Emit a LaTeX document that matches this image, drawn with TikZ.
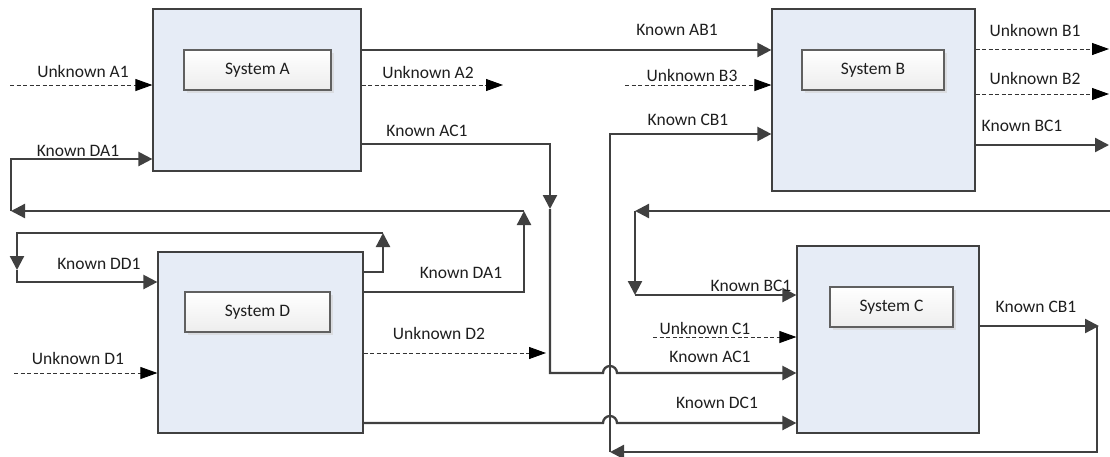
\documentclass[tikz,border=0pt]{standalone}
\usepackage{fontspec}
\setmainfont{Carlito}
\usetikzlibrary{arrows.meta,shadows}
\definecolor{linec}{HTML}{404040}
\definecolor{boxfill}{HTML}{E6ECF6}
\definecolor{txtc}{HTML}{1E1E1E}
\begin{document}
\begin{tikzpicture}[x=1pt,y=-1pt,
  sysbox/.style={draw=linec,line width=1.2pt,fill=boxfill,inner sep=0pt},
  lblbox/.style={draw=gray!75!black,line width=1.2pt,top color=white,bottom color=gray!14,
     inner sep=0pt,minimum height=40pt,text=txtc,
     drop shadow={shadow xshift=3pt,shadow yshift=-3pt,fill=gray!35,opacity=.6},
     font=\fontsize{17.5}{20}\selectfont},
  conn/.style={draw=linec,line width=2.3pt,-{Triangle[length=14pt,width=14pt]}},
  dconn/.style={draw=black!80,line width=0.9pt,dash pattern=on 4pt off 2.5pt,-{Triangle[length=17pt,width=12pt,color=black]}},
  lbl/.style={text=txtc,font=\fontsize{17.5}{20}\selectfont,inner sep=0pt}]
\useasboundingbox (0,0) rectangle (1110,456);
% systems
\node[sysbox,minimum width=208pt,minimum height=162pt] (A) at (257,90) {};
\node[sysbox,minimum width=203pt,minimum height=182pt] (B) at (873.5,100) {};
\node[sysbox,minimum width=182pt,minimum height=187pt] (C) at (888,339.5) {};
\node[sysbox,minimum width=205pt,minimum height=181pt] (D) at (260.5,342.5) {};
\node[lblbox,minimum width=147pt] (Al) at (257.5,70) {System A};
\node[lblbox,minimum width=142pt] (Bl) at (873,70) {System B};
\node[lblbox,minimum width=123pt] (Cl) at (891.5,307) {System C};
\node[lblbox,minimum width=145pt] (Dl) at (257.5,312) {System D};
% free ends and bends
\coordinate (a1s) at (10,85);
\coordinate (a2e) at (503,85);
\coordinate (b3s) at (625,85);
\coordinate (b1e) at (1109,49);
\coordinate (b2e) at (1109,94);
\coordinate (bc1e) at (1109,145);
\coordinate (bc1r) at (1110,211);
\coordinate (bc1l) at (635,211);
\coordinate (bc1d) at (635,295);
\coordinate (c1s) at (653,337);
\coordinate (d1s) at (14,373);
\coordinate (d2e) at (546,353);
\coordinate (da1u) at (524,211);
\coordinate (da1l) at (11,211);
\coordinate (dd1u) at (383,233);
\coordinate (dd1d) at (17,270);
\coordinate (ac1d) at (550,209);
\coordinate (cb1r) at (1099,326);
\coordinate (cb1b) at (610,452);
% Known DA1 loop
\draw[conn] (D.east |- 0,292) -- (524,292) -- (da1u);
\draw[conn] (da1u) -- (da1l);
\draw[conn] (da1l) -- (11,159) -- (A.west |- 0,159);
% Known DD1 loop
\draw[conn] (D.east |- 0,272) -- (383,272) -- (dd1u);
\draw[conn] (dd1u) -- (17,233) -- (dd1d);
\draw[conn] (dd1d) -- (17,282) -- (D.west |- 0,282);
% A outputs
\draw[conn] (A.east |- 0,50) -- (B.west |- 0,50);
\draw[dconn] (A.east |- 0,85) -- (a2e);
\draw[conn] (A.east |- 0,144) -- (550,144) -- (ac1d);
\draw[conn] (ac1d) -- (550,373) -- (603,373) arc[start angle=180,end angle=0,radius=7pt] -- (C.west |- 0,373);
% B inputs/outputs
\draw[dconn] (b3s) -- (B.west |- 0,85);
\draw[dconn] (B.east |- 0,49) -- (b1e);
\draw[dconn] (B.east |- 0,94) -- (b2e);
\draw[conn] (B.east |- 0,145) -- (bc1e);
\draw[conn] (bc1r) -- (bc1l);
\draw[conn] (bc1l) -- (bc1d);
\draw[conn] (bc1d) -- (C.west |- 0,295);
% C
\draw[dconn] (c1s) -- (C.west |- 0,337);
\draw[conn] (C.east |- 0,326) -- (cb1r);
\draw[conn] (1097,326) -- (1097,452) -- (cb1b);
\draw[conn] (cb1b) -- (610,134) -- (B.west |- 0,134);
% D
\draw[dconn] (d1s) -- (D.west |- 0,373);
\draw[dconn] (D.east |- 0,353) -- (d2e);
\draw[conn] (D.east |- 0,423) -- (603,423) arc[start angle=180,end angle=0,radius=7pt] -- (C.west |- 0,423);
% dashed A1
\draw[dconn] (a1s) -- (A.west |- 0,85);
% labels
\node[lbl] (t1) at (83,71) {Unknown A1};
\node[lbl] (t2) at (78,151) {Known DA1};
\node[lbl] (t3) at (677,30) {Known AB1};
\node[lbl] (t4) at (428,72) {Unknown A2};
\node[lbl] (t5) at (427,131) {Known AC1};
\node[lbl] (t6) at (692,75) {Unknown B3};
\node[lbl] (t7) at (688,120) {Known CB1};
\node[lbl] (t8) at (1035,30) {Unknown B1};
\node[lbl] (t9) at (1035,78) {Unknown B2};
\node[lbl] (t10) at (1022,126) {Known BC1};
\node[lbl] (t11) at (99,264) {Known DD1};
\node[lbl] (t12) at (461,273) {Known DA1};
\node[lbl] (t13) at (439,333) {Unknown D2};
\node[lbl] (t14) at (78,358) {Unknown D1};
\node[lbl] (t15) at (751,286) {Known BC1};
\node[lbl] (t16) at (705,328) {Unknown C1};
\node[lbl] (t17) at (710,357) {Known AC1};
\node[lbl] (t18) at (717,403) {Known DC1};
\node[lbl] (t19) at (1036,307) {Known CB1};
\end{tikzpicture}
\end{document}
